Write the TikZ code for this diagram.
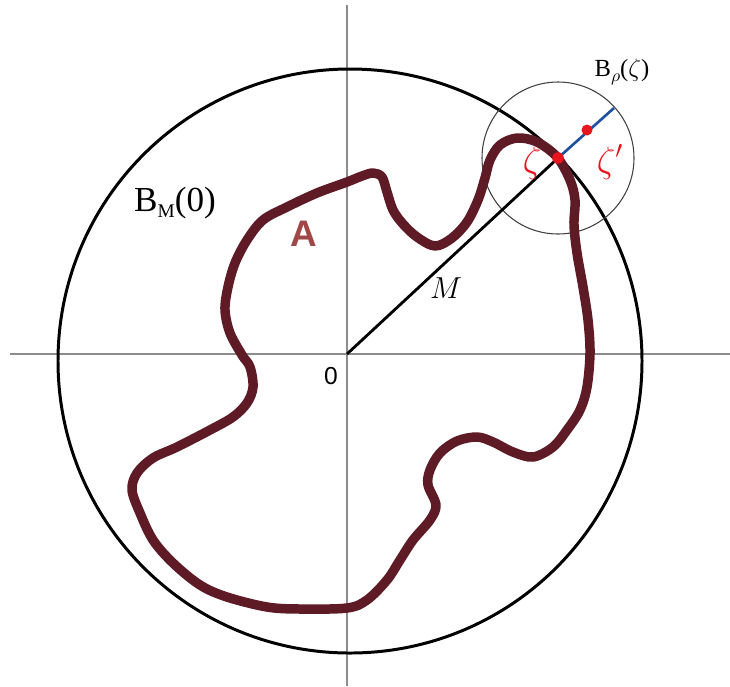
\documentclass[tikz,border=0pt]{standalone}
\usepackage{amsmath,amssymb}
\usepackage{fontspec}
\setmainfont{Liberation Serif}
\setsansfont{Liberation Sans}
\usepackage{tikz}
\usetikzlibrary{calc,positioning}
\definecolor{ink}{HTML}{000000}
\definecolor{axis}{HTML}{8C8C8C}
\definecolor{maroon}{HTML}{5E1B25}
\definecolor{rose}{HTML}{A04848}
\definecolor{ptred}{HTML}{E8141E}
\definecolor{ray}{HTML}{1F4F9F}

\tikzset{
  axisline/.style={axis,line width=0.8pt},
  setline/.style={maroon,line width=5.4pt,line join=round,line cap=round},
  lab/.style={inner sep=1pt}
}

\begin{document}
\begin{tikzpicture}[x=0.2mm,y=-0.2mm]
  \useasboundingbox (0,0) rectangle (730,686);

  \coordinate (O) at (347,354);
  \coordinate (zeta) at (558,158);
  \coordinate (tip) at (614,108);
  \coordinate (ctr) at (350,361);

  % axes
  \draw[axisline] (10,354) -- (730,354);
  \draw[axisline] (347,5) -- (347,686);

  % B_M(0) and B_rho(zeta)
  \draw[ink,line width=1.7pt] (ctr) circle [radius=292];
  \draw[black!75,line width=0.6pt] (zeta) circle [radius=76];

  % the set A
  \draw[setline] plot[smooth cycle,tension=0.55] coordinates {
    (347,182) (362,176) (373,173) (382,177) (387,192) (393,210) (403,224)
    (417,237) (435,246) (452,238) (467,222) (478,200) (485,178) (490,160)
    (500,145) (517,138) (537,142) (557,157) (570,180) (575,200) (574,225)
    (577,253) (583,287) (588,320) (590,353) (587,387) (580,410) (567,430)
    (553,447) (533,457) (513,452) (493,442) (477,437) (457,441) (440,453)
    (430,470) (428,485) (436,505) (430,520) (413,540) (400,560) (387,580)
    (367,600) (347,608) (300,609) (267,607) (227,597) (200,585) (173,563)
    (153,540) (140,513) (132,490) (137,473) (153,458) (177,447) (210,430)
    (233,417) (247,403) (253,387) (250,367) (242,355) (230,333) (225,310)
    (228,287) (235,263) (247,240) (263,220) (287,207) (317,193)};

  \draw[ink,line width=1.6pt] (O) -- (zeta);
  \draw[ray,line width=1.5pt] (zeta) -- (tip);

  \node[circle,fill=ptred,inner sep=0pt,minimum size=2.3mm] (pz) at (zeta) {};
  \node[circle,fill=ptred,inner sep=0pt,minimum size=2.2mm] (pzp) at (587,130) {};

  \node[lab,font=\fontsize{20}{20}\selectfont] (bm) at (175,203)
    {B\raisebox{-0.35ex}{\fontsize{11}{11}\selectfont M}(0)};
  \node[lab,font=\fontsize{14}{14}\selectfont] (brho) at (622,72)
    {B\raisebox{-0.4ex}{\fontsize{10}{10}\selectfont$\rho$}($\zeta$)};
  \node[lab,font=\sffamily\bfseries\fontsize{21}{21}\selectfont,color=rose] (lA) at (304,234) {A};
  \node[lab,font=\fontsize{16}{16}\selectfont] (lM) at (446,288) {$M$};
  \node[lab,font=\sffamily\fontsize{14}{14}\selectfont] (l0) at (331,376) {0};
  \node[lab,color=ptred,font=\fontsize{20}{20}\selectfont] (lz) at (532,163) {$\zeta$};
  \node[lab,color=ptred,font=\fontsize{20}{20}\selectfont] (lzp) at (610,162) {$\zeta'$};
\end{tikzpicture}
\end{document}
